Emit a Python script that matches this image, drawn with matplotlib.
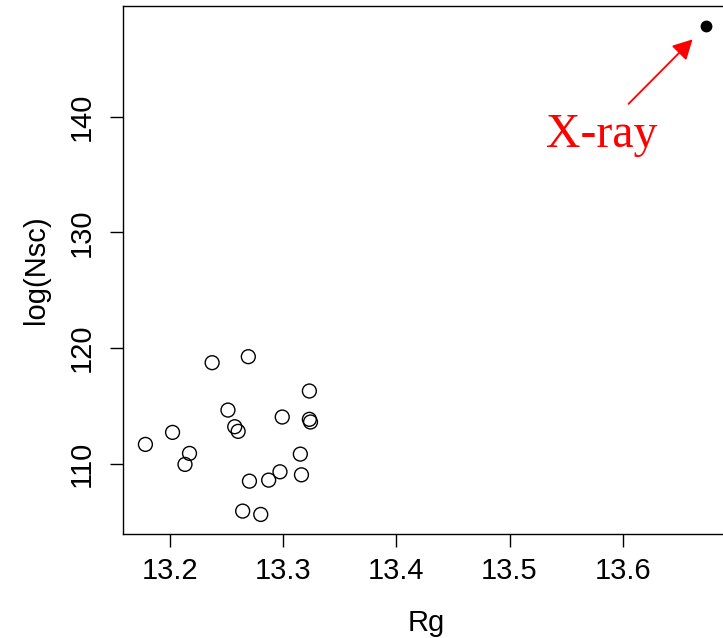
import matplotlib
matplotlib.use("Agg")
import matplotlib.pyplot as plt

# Data
rg = [13.178, 13.202, 13.217, 13.213, 13.237, 13.269, 13.251, 13.257, 13.260,
      13.299, 13.323, 13.323, 13.324, 13.315, 13.316, 13.297, 13.287, 13.270,
      13.264, 13.280]
lognsc = [111.66, 112.70, 110.88, 109.93, 118.73, 119.25, 114.63, 113.19, 112.79,
          114.03, 116.28, 113.83, 113.60, 110.82, 109.03, 109.29, 108.57, 108.48,
          105.89, 105.60]
xray_rg = [13.674]
xray_lognsc = [147.9]
xray_label = "X-ray"
x_ticks = [13.2, 13.3, 13.4, 13.5, 13.6]
y_ticks = [110, 120, 130, 140]

plt.rcParams['font.family'] = ['Liberation Sans', 'DejaVu Sans']

fig = plt.figure(figsize=(7.23, 6.38), dpi=100)
ax = fig.add_axes([0.1701, 0.163, 0.8378, 0.8276])

ax.scatter(rg, lognsc, s=10.0**2, facecolors='none', edgecolors='black', linewidths=1.0, zorder=3)
ax.scatter(xray_rg, xray_lognsc, s=7.5**2, color='black', zorder=3)

allx = rg + xray_rg
ally = lognsc + xray_lognsc
px = 0.04 * (max(allx) - min(allx))
py = 0.04 * (max(ally) - min(ally))
ax.set_xlim(min(allx) - px, max(allx) + px)
ax.set_ylim(min(ally) - py, max(ally) + py)

ax.set_xticks(x_ticks)
ax.set_xticklabels([f"{t:.1f}" for t in x_ticks])
ax.set_yticks(y_ticks)
ax.set_yticklabels([str(t) for t in y_ticks])

ax.tick_params(axis='both', length=9.5, width=1.0, labelsize=21, direction='out')
ax.tick_params(axis='x', pad=7)
ax.tick_params(axis='y', pad=10, labelrotation=90)
for lab in ax.get_yticklabels():
    lab.set_va('center')

for sp in ax.spines.values():
    sp.set_linewidth(1.0)

ax.set_xlabel("Rg", fontsize=21, labelpad=17)
ax.set_ylabel("log(Nsc)", fontsize=21, labelpad=13)

# Annotation relative to the X-ray point
ax.annotate("", xy=(xray_rg[0], xray_lognsc[0]), xytext=(-56, -56.4),
            textcoords='offset points',
            arrowprops=dict(arrowstyle='-|>,head_length=0.85,head_width=0.45',
                            color='red', lw=1.3, mutation_scale=14,
                            shrinkA=0, shrinkB=14))
ax.annotate(xray_label, xy=(xray_rg[0], xray_lognsc[0]), xytext=(-75.6, -87.1),
            textcoords='offset points', ha='center', va='baseline',
            color='red', fontsize=34.5, family=['Liberation Serif', 'DejaVu Serif'])

fig.savefig("out.png", dpi=100)
